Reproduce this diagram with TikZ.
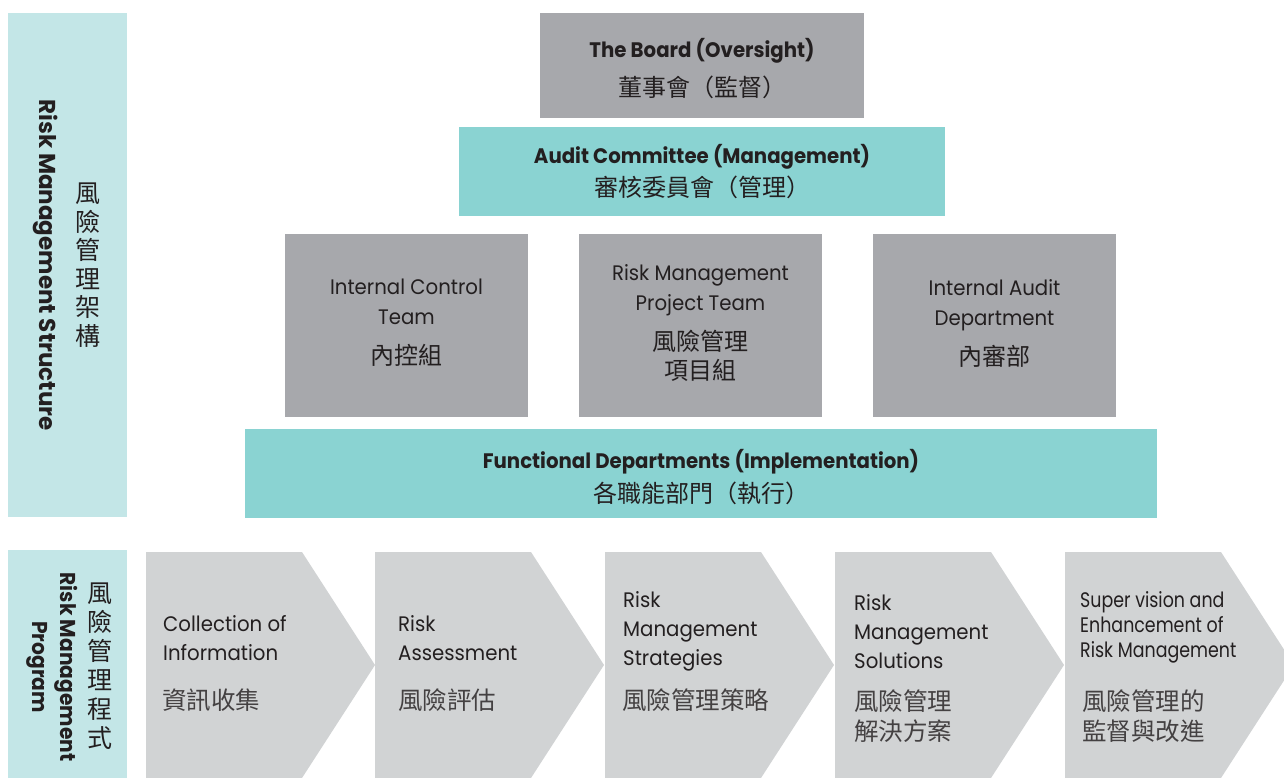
\documentclass[tikz,border=0pt]{standalone}
\usepackage{fontspec}
\setmainfont{Poppins}[FakeStretch=0.94]
\newfontfamily\sidefont{Poppins}
\newfontfamily\cjk{Noto Sans CJK TC}
\newfontfamily\narrowfont{Poppins}[FakeStretch=0.83]

\definecolor{bandcol}{HTML}{C3E6E7}
\definecolor{tealcol}{HTML}{8AD3D2}
\definecolor{greycol}{HTML}{A7A8AC}
\definecolor{stepcol}{HTML}{D1D3D4}
\definecolor{inkcol}{HTML}{231F20}

\tikzset{
  band/.style={fill=bandcol, draw=none, inner sep=0pt},
  tier/.style={fill=tealcol, draw=none, inner sep=0pt},
  greybox/.style={fill=greycol, draw=none, inner sep=0pt},
  unitbox/.style={greybox, minimum width=243pt, minimum height=183pt},
  titletext/.style={inner sep=0pt, align=center, text=inkcol,
    font=\bfseries\fontsize{21}{28}\selectfont},
  unittext/.style={inner sep=0pt, align=center, text=inkcol,
    font=\fontsize{21}{30}\selectfont},
  steptext/.style={anchor=west, inner sep=0pt, align=left, text=inkcol,
    font=\fontsize{21}{29}\selectfont},
  stepcjk/.style={anchor=west, inner sep=0pt, align=left, text=inkcol!85,
    font=\cjk\fontsize{24.5}{30}\selectfont},
  sidetext/.style={inner sep=0pt, align=center, text=inkcol},
}
\newcommand{\zhtitle}{\cjk\mdseries\fontsize{24}{28}\selectfont}
\newcommand{\zhunit}{\cjk\fontsize{24}{29}\selectfont}

\begin{document}
\begin{tikzpicture}[x=1pt, y=-1pt]
\useasboundingbox (0,0) rectangle (1284,777);
\fill[white] (0,0) rectangle (1284,777);

% side bands
\node[band, minimum width=119pt, minimum height=504pt] (structband) at (67.5,265) {};
\node[band, minimum width=119pt, minimum height=230pt] (progband) at (67.5,665) {};

\node[sidetext, rotate=-90, font=\sidefont\bfseries\fontsize{23}{28}\selectfont] (structen) at (46,265)
  {Risk Management Structure};
\node[sidetext, font=\cjk\fontsize{25}{28.5}\selectfont] (structzh) at (88,265)
  {風\\險\\管\\理\\架\\構};
\node[sidetext, rotate=-90, font=\bfseries\fontsize{21.5}{28}\selectfont] (progen) at (52,667)
  {Risk Management\\Program};
\node[sidetext, font=\cjk\fontsize{25}{29}\selectfont] (progzh) at (100,666)
  {風\\險\\管\\理\\程\\式};

% governance tiers
\node[greybox, minimum width=324pt, minimum height=105pt] (board) at (702,65.5) {};
\node[titletext] (boardtext) at (702,68.5)
  {The Board (Oversight)\\[11pt]\zhtitle 董事會（監督）};

\node[tier, minimum width=486pt, minimum height=89pt] (audit) at (702,171.5) {};
\node[titletext] (audittext) at (702,171.5)
  {Audit Committee (Management)\\[5pt]\zhtitle 審核委員會（管理）};

\node[unitbox] (ict) at (406.5,325.5) {};
\node[unittext] (icttext) at (406.5,323)
  {Internal Control\\Team\\[10pt]\zhunit 內控組};
\node[unitbox] (rmpt) at (700.5,325.5) {};
\node[unittext] (rmpttext) at (700.5,323)
  {Risk Management\\Project Team\\[10pt]\zhunit 風險管理\\[-1pt]\zhunit 項目組};
\node[unitbox] (iad) at (994.5,325.5) {};
\node[unittext] (iadtext) at (994.5,323)
  {Internal Audit\\Department\\[10pt]\zhunit 內審部};

\node[tier, minimum width=912pt, minimum height=89pt] (func) at (701,473.5) {};
\node[titletext] (functext) at (701,477)
  {Functional Departments (Implementation)\\[6pt]\zhtitle 各職能部門（執行）};

% process chevrons
\foreach \x/\nm in {146/s1, 375/s2, 605/s3, 835/s4, 1065/s5}{
  \fill[stepcol] (\x,552) -- ++(156,0) -- ++(73,113) -- ++(-73,113) -- (\x,778) -- cycle;
  \coordinate (\nm) at (\x,665);
}

\node[steptext] (s1en) at (163,638) {Collection of\\Information};
\node[stepcjk] (s1zh) at (162,700) {資訊收集};
\node[steptext] (s2en) at (398,638) {Risk\\Assessment};
\node[stepcjk] (s2zh) at (398,700) {風險評估};
\node[steptext] (s3en) at (623,631) {Risk\\Management\\Strategies};
\node[stepcjk] (s3zh) at (622,700) {風險管理策略};
\node[steptext] (s4en) at (854,631.5) {Risk\\Management\\Solutions};
\node[stepcjk] (s4zh) at (854,716) {風險管理\\解決方案};
\node[steptext, font=\narrowfont\fontsize{21}{25}\selectfont] (s5en) at (1080,627.5)
  {Super vision and\\Enhancement of\\Risk Management};
\node[stepcjk] (s5zh) at (1082,716) {風險管理的\\監督與改進};
\end{tikzpicture}
\end{document}
